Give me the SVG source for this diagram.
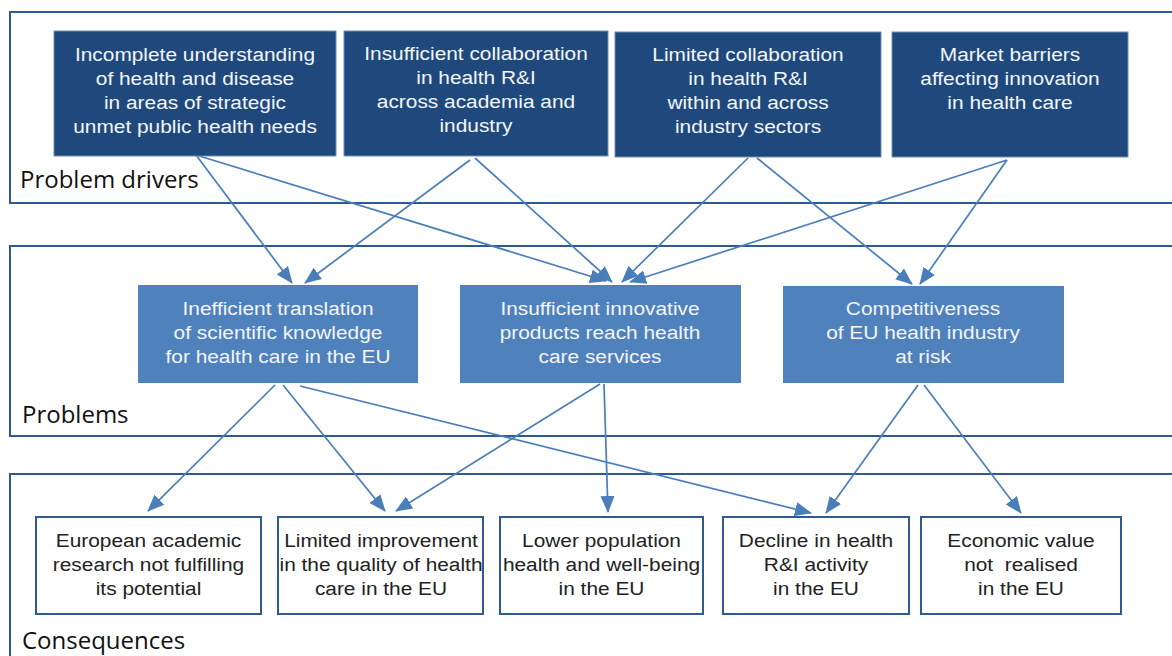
<svg xmlns="http://www.w3.org/2000/svg" width="1172" height="656" viewBox="0 0 1172 656">
<style>
.panel{fill:none;stroke:#2e5a92;stroke-width:2}
.dark{fill:#1f497d;stroke:#6f8fb8;stroke-width:1}
.mid{fill:#4f81bd;stroke:none}
.cons{fill:#ffffff;stroke:#2f5a93;stroke-width:2}
.t{font-family:"Liberation Sans",Arial,sans-serif;font-size:18.8px;text-anchor:middle}
.tw{fill:#f4f6fa}
.tb{fill:#222222}
.lbl{font-family:"Open Sans","Noto Sans",sans-serif;font-size:24px;fill:#111111}
.arr{stroke:#4a7ebb;stroke-width:1.7;fill:none;marker-end:url(#ah)}
</style>
<defs>
<marker id="ah" markerUnits="userSpaceOnUse" markerWidth="18" markerHeight="16" refX="16" refY="7" orient="auto" viewBox="0 0 18 14">
<path d="M0,0 L17,7 L0,14 Z" fill="#4a7ebb"/>
</marker>
</defs>
<rect width="1172" height="656" fill="#ffffff"/>
<g id="panels">
<rect class="panel" x="10" y="12" width="1180" height="191"/>
<rect class="panel" x="10" y="246" width="1180" height="190"/>
<rect class="panel" x="10" y="474" width="1180" height="200"/>
<text class="lbl" x="20" y="188">Problem drivers</text>
<text class="lbl" x="22" y="423">Problems</text>
<text class="lbl" x="22" y="649">Consequences</text>
</g>
<g id="connectors">
<line class="arr" x1="196" y1="155" x2="292" y2="283"/>
<line class="arr" x1="196" y1="155" x2="606" y2="281"/>
<line class="arr" x1="470" y1="160" x2="305" y2="283"/>
<line class="arr" x1="475" y1="158" x2="612" y2="282"/>
<line class="arr" x1="748" y1="158" x2="622" y2="282"/>
<line class="arr" x1="757" y1="158" x2="912" y2="284"/>
<line class="arr" x1="1007" y1="160" x2="630" y2="282"/>
<line class="arr" x1="1007" y1="160" x2="920" y2="284"/>
<line class="arr" x1="275" y1="385" x2="148" y2="511"/>
<line class="arr" x1="283" y1="385" x2="385" y2="511"/>
<line class="arr" x1="300" y1="386" x2="811" y2="513"/>
<line class="arr" x1="600" y1="384" x2="396" y2="511"/>
<line class="arr" x1="604" y1="384" x2="608" y2="512"/>
<line class="arr" x1="918" y1="385" x2="826" y2="513"/>
<line class="arr" x1="924" y1="385" x2="1021" y2="513"/>
</g>
<g id="d1">
<rect class="dark" x="54" y="31" width="282" height="125"/>
<g transform="translate(195,0) scale(1.11,1)">
<text class="t tw" x="0" y="61">Incomplete understanding</text>
<text class="t tw" x="0" y="85">of health and disease</text>
<text class="t tw" x="0" y="109">in areas of strategic</text>
<text class="t tw" x="0" y="133">unmet public health needs</text>
</g>
</g>
<g id="d2">
<rect class="dark" x="344" y="31" width="264" height="125"/>
<g transform="translate(476,0) scale(1.11,1)">
<text class="t tw" x="0" y="60">Insufficient collaboration</text>
<text class="t tw" x="0" y="84">in health R&amp;I</text>
<text class="t tw" x="0" y="108">across academia and</text>
<text class="t tw" x="0" y="132">industry</text>
</g>
</g>
<g id="d3">
<rect class="dark" x="615" y="32" width="266" height="125"/>
<g transform="translate(748,0) scale(1.11,1)">
<text class="t tw" x="0" y="61">Limited collaboration</text>
<text class="t tw" x="0" y="85">in health R&amp;I</text>
<text class="t tw" x="0" y="109">within and across</text>
<text class="t tw" x="0" y="133">industry sectors</text>
</g>
</g>
<g id="d4">
<rect class="dark" x="892" y="32" width="236" height="125"/>
<g transform="translate(1010,0) scale(1.11,1)">
<text class="t tw" x="0" y="61">Market barriers</text>
<text class="t tw" x="0" y="85">affecting innovation</text>
<text class="t tw" x="0" y="109">in health care</text>
</g>
</g>
<g id="p1">
<rect class="mid" x="138" y="285" width="280" height="98"/>
<g transform="translate(278,0) scale(1.11,1)">
<text class="t tw" x="0" y="315">Inefficient translation</text>
<text class="t tw" x="0" y="339">of scientific knowledge</text>
<text class="t tw" x="0" y="363">for health care in the EU</text>
</g>
</g>
<g id="p2">
<rect class="mid" x="460" y="285" width="281" height="98"/>
<g transform="translate(600,0) scale(1.11,1)">
<text class="t tw" x="0" y="315">Insufficient innovative</text>
<text class="t tw" x="0" y="339">products reach health</text>
<text class="t tw" x="0" y="363">care services</text>
</g>
</g>
<g id="p3">
<rect class="mid" x="783" y="286" width="281" height="97"/>
<g transform="translate(923,0) scale(1.11,1)">
<text class="t tw" x="0" y="315">Competitiveness</text>
<text class="t tw" x="0" y="339">of EU health industry</text>
<text class="t tw" x="0" y="363">at risk</text>
</g>
</g>
<g id="c1">
<rect class="cons" x="36" y="517" width="225" height="97"/>
<g transform="translate(148.5,0) scale(1.11,1)">
<text class="t tb" x="0" y="547">European academic</text>
<text class="t tb" x="0" y="571">research not fulfilling</text>
<text class="t tb" x="0" y="595">its potential</text>
</g>
</g>
<g id="c2">
<rect class="cons" x="278" y="517" width="205" height="97"/>
<g transform="translate(381,0) scale(1.11,1)">
<text class="t tb" x="0" y="547">Limited improvement</text>
<text class="t tb" x="0" y="571">in the quality of health</text>
<text class="t tb" x="0" y="595">care in the EU</text>
</g>
</g>
<g id="c3">
<rect class="cons" x="500" y="517" width="203" height="97"/>
<g transform="translate(601.5,0) scale(1.11,1)">
<text class="t tb" x="0" y="547">Lower population</text>
<text class="t tb" x="0" y="571">health and well-being</text>
<text class="t tb" x="0" y="595">in the EU</text>
</g>
</g>
<g id="c4">
<rect class="cons" x="723" y="517" width="186" height="97"/>
<g transform="translate(816,0) scale(1.11,1)">
<text class="t tb" x="0" y="547">Decline in health</text>
<text class="t tb" x="0" y="571">R&amp;I activity</text>
<text class="t tb" x="0" y="595">in the EU</text>
</g>
</g>
<g id="c5">
<rect class="cons" x="921" y="517" width="200" height="97"/>
<g transform="translate(1021,0) scale(1.11,1)">
<text class="t tb" x="0" y="547">Economic value</text>
<text class="t tb" x="0" y="571" xml:space="preserve">not  realised</text>
<text class="t tb" x="0" y="595">in the EU</text>
</g>
</g>
</svg>
